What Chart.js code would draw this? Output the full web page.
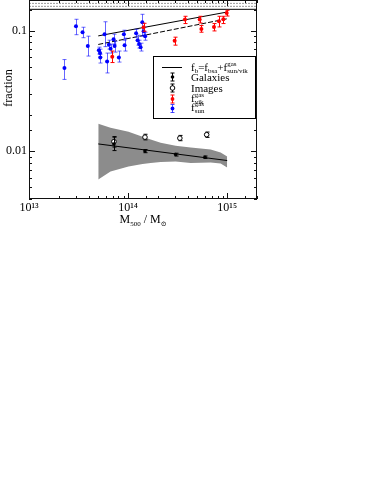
<!DOCTYPE html>
<html><head><meta charset="utf-8">
<script src="https://cdn.jsdelivr.net/npm/chart.js@4.4.0/dist/chart.umd.min.js"></script>
<style>html,body{margin:0;padding:0;background:#fff;}#wrap{position:relative;width:374px;height:484px;}</style>
</head><body><div id="wrap"><canvas id="c" width="374" height="484"></canvas></div>
<script>
// ---- data (M500 in solar masses, fractions) ----
const blueMass = [2.28e13, 2.98e13, 3.47e13, 3.92e13, 5.07e13, 5.21e13, 5.24e13, 5.79e13, 6.14e13, 6.40e13, 6.66e13, 7.14e13, 7.31e13, 8.07e13, 9.07e13, 9.22e13, 1.205e14, 1.247e14, 1.291e14, 1.337e14, 1.391e14, 1.434e14, 1.485e14];
const blueFrac = [0.0490, 0.1089, 0.0972, 0.0745, 0.0690, 0.0652, 0.0598, 0.0936, 0.0555, 0.0766, 0.0710, 0.0851, 0.0745, 0.0598, 0.0936, 0.0759, 0.0954, 0.0834, 0.0774, 0.0730, 0.1175, 0.0990, 0.0901];
const blueLo = [0.0394, 0.0927, 0.0875, 0.0616, 0.0640, 0.0604, 0.0539, 0.0738, 0.0446, 0.0703, 0.0652, 0.0773, 0.0664, 0.0549, 0.0834, 0.0678, 0.0884, 0.0759, 0.0717, 0.0678, 0.0901, 0.0918, 0.0834];
const blueHi = [0.0576, 0.1245, 0.1069, 0.0901, 0.0730, 0.0703, 0.0640, 0.1187, 0.0652, 0.0834, 0.0774, 0.0936, 0.0819, 0.0678, 0.1010, 0.0867, 0.1029, 0.0918, 0.0834, 0.0788, 0.1369, 0.1069, 0.0972];

const redMass = [6.92e13, 1.434e14, 2.95e14, 3.75e14, 5.28e14, 5.49e14, 7.36e14, 8.26e14, 9.15e14, 9.89e14];
const redFrac = [0.0607, 0.1069, 0.0824, 0.1238, 0.1238, 0.1035, 0.1075, 0.1198, 0.1245, 0.1403];
const redLo = [0.0544, 0.0990, 0.0759, 0.1147, 0.1160, 0.0972, 0.0996, 0.1075, 0.1147, 0.1325];
const redHi = [0.0678, 0.1153, 0.0884, 0.1318, 0.1318, 0.1104, 0.1147, 0.1318, 0.1318, 0.1477];

const galMass = [7.2e13, 1.48e14, 3.02e14, 5.97e14];
const galFrac = [0.01147, 0.0100, 0.00936, 0.00889];
const galLo = [0.0101, 0.0097, 0.0091, 0.0087];
const galHi = [0.01305, 0.0103, 0.0096, 0.0091];

const imgMass = [7.2e13, 1.48e14, 3.33e14, 6.21e14];
const imgFrac = [0.0120, 0.01306, 0.01281, 0.01369];
const imgLo = [0.0108, 0.0124, 0.0122, 0.0130];
const imgHi = [0.0132, 0.0138, 0.0135, 0.0144];

const bandMass = [5.0e13, 6.65e13, 1.01e14, 1.40e14, 1.69e14, 2.13e14, 3.02e14, 4.28e14, 6.81e14, 8.59e14, 1.0e15];
const bandUpper = [0.01688, 0.01563, 0.01449, 0.01318, 0.0125, 0.01175, 0.0111, 0.0107, 0.01029, 0.00972, 0.00901];
const bandLower = [0.00581, 0.00678, 0.00745, 0.0078, 0.00796, 0.0081, 0.00819, 0.00796, 0.00803, 0.0079, 0.00731];

const fitMass = [5e13, 1e15];
const fitTotal = [0.0906, 0.143];
const fitTotalDash = [0.0769, 0.1257];
const fitStars = [0.01147, 0.00835];

const cosmicMass = [1e13, 2e15];
const cosmicFrac = 0.1506;
const cosmicBandHi = 0.1687;
const cosmicBandLo = 0.1594;

const xTickDecades = [13, 14, 15];
const yTickLabels = {"-1": "0.1", "-2": "0.01"};

const X_MIN = 1e13, X_MAX = 2e15, Y_MIN = 0.004, Y_MAX = 0.18;
const FONT = "'Liberation Serif', 'DejaVu Serif', serif";
const AREA = {left: 29, top: 0, right: 257, bottom: 199};

const pts = (xs, ys) => xs.map((v, i) => ({x: v, y: ys[i]}));
const flat = (xs, v) => xs.map(m => ({x: m, y: v}));
const SUP = {'0':'⁰','1':'¹','2':'²','3':'³','4':'⁴','5':'⁵','6':'⁶','7':'⁷','8':'⁸','9':'⁹'};

const areaPlugin = {
  id: 'area',
  afterLayout(chart) {
    const x = chart.scales.x, y = chart.scales.y, a = chart.chartArea;
    y.top = AREA.top; y.bottom = AREA.bottom; y.height = AREA.bottom - AREA.top; y.left = 0; y.right = AREA.left; y.width = AREA.left; y.configure();
    x.left = AREA.left; x.right = AREA.right; x.width = AREA.right - AREA.left; x.top = AREA.bottom; x.height = x.bottom - AREA.bottom; x.configure();
    a.left = AREA.left; a.right = AREA.right; a.top = AREA.top; a.bottom = AREA.bottom;
    a.width = AREA.right - AREA.left; a.height = AREA.bottom - AREA.top;
  }
};

const errPlugin = {
  id: 'err',
  beforeDatasetDraw(chart, args) {
    const ds = chart.data.datasets[args.index];
    if (!ds.errLo) return;
    const {ctx, scales: {x, y}} = chart;
    ctx.save();
    ctx.strokeStyle = ds.errColor; ctx.lineWidth = 1;
    ds.data.forEach((p, i) => {
      const px = Math.round(x.getPixelForValue(p.x)) + 0.5;
      const y1 = y.getPixelForValue(ds.errLo[i]), y2 = y.getPixelForValue(ds.errHi[i]);
      const c = 2;
      ctx.beginPath();
      ctx.moveTo(px, y1); ctx.lineTo(px, y2);
      ctx.moveTo(px - c, y1); ctx.lineTo(px + c, y1);
      ctx.moveTo(px - c, y2); ctx.lineTo(px + c, y2);
      ctx.stroke();
    });
    ctx.restore();
  }
};

function drawRich(ctx, x, y, segs, size) {
  const small = Math.round(size * 0.62);
  let cx = x;
  segs.forEach(s => {
    if (s.t) {
      ctx.font = size + 'px ' + FONT;
      ctx.fillText(s.t, cx, y);
      cx += ctx.measureText(s.t).width;
    }
    let w = 0;
    ctx.font = small + 'px ' + FONT;
    if (s.sup) { ctx.fillText(s.sup, cx, y - size * 0.42); w = Math.max(w, ctx.measureText(s.sup).width); }
    if (s.sub) { ctx.fillText(s.sub, cx, y + size * 0.22); w = Math.max(w, ctx.measureText(s.sub).width); }
    cx += w;
  });
  return cx - x;
}
function richWidth(ctx, segs, size) {
  const small = Math.round(size * 0.62); let w = 0;
  segs.forEach(s => {
    if (s.t) { ctx.font = size + 'px ' + FONT; w += ctx.measureText(s.t).width; }
    ctx.font = small + 'px ' + FONT;
    w += Math.max(s.sup ? ctx.measureText(s.sup).width : 0, s.sub ? ctx.measureText(s.sub).width : 0);
  });
  return w;
}

const framePlugin = {
  id: 'frame',
  afterDraw(chart) {
    const {ctx, chartArea: a, scales: {x, y}} = chart;
    ctx.save();
    ctx.strokeStyle = '#111'; ctx.lineWidth = 1;
    ctx.strokeRect(a.left + 0.5, a.top + 0.5, a.right - a.left - 1, a.bottom - a.top - 1);
    const isMajor = v => Math.abs(Math.log10(v) - Math.round(Math.log10(v))) < 1e-6;
    ctx.beginPath();
    x.ticks.forEach(t => {
      const v = t.value; if (v < X_MIN * 0.999 || v > X_MAX * 1.001) return;
      const L = isMajor(v) ? 6 : 3;
      const px = Math.round(x.getPixelForValue(v)) + 0.5;
      ctx.moveTo(px, a.bottom); ctx.lineTo(px, a.bottom - L);
      ctx.moveTo(px, a.top); ctx.lineTo(px, a.top + L);
    });
    y.ticks.forEach(t => {
      const v = t.value; if (v < Y_MIN * 0.999 || v > Y_MAX * 1.001) return;
      const L = isMajor(v) ? 6 : 3;
      const py = Math.round(y.getPixelForValue(v)) + 0.5;
      ctx.moveTo(a.left, py); ctx.lineTo(a.left + L, py);
      ctx.moveTo(a.right, py); ctx.lineTo(a.right - L, py);
    });
    ctx.stroke();

    // axis titles
    ctx.fillStyle = '#000'; ctx.textBaseline = 'alphabetic';
    const segs = [{t: 'M', sub: '500'}, {t: ' / M', sub: '⊙'}];
    const w = richWidth(ctx, segs, 12);
    drawRich(ctx, (a.left + a.right) / 2 - w / 2, 223, segs, 12);
    ctx.save();
    ctx.translate(9, 88); ctx.rotate(-Math.PI / 2);
    ctx.font = '12px ' + FONT; ctx.textAlign = 'center'; ctx.textBaseline = 'middle';
    ctx.fillText('fraction', 0, 0);
    ctx.restore();

    // legend
    const L0 = 153, T0 = 56, R0 = 255, B0 = 118;
    ctx.fillStyle = '#fff'; ctx.fillRect(L0, T0, R0 - L0, B0 - T0);
    ctx.strokeStyle = '#000'; ctx.lineWidth = 1;
    ctx.strokeRect(L0 + 0.5, T0 + 0.5, R0 - L0, B0 - T0);
    const mx = 172.5, tx = 191;
    ctx.beginPath(); ctx.moveTo(162, 67.5); ctx.lineTo(182, 67.5); ctx.stroke();
    const eb = (cy, col) => {
      ctx.strokeStyle = col; ctx.beginPath();
      ctx.moveTo(mx, cy - 4); ctx.lineTo(mx, cy + 4);
      ctx.moveTo(mx - 2, cy - 4); ctx.lineTo(mx + 2, cy - 4);
      ctx.moveTo(mx - 2, cy + 4); ctx.lineTo(mx + 2, cy + 4);
      ctx.stroke();
    };
    eb(77, '#000'); ctx.fillStyle = '#000'; ctx.beginPath(); ctx.arc(mx, 77, 1.8, 0, 7); ctx.fill();
    eb(88, '#000'); ctx.fillStyle = '#fff'; ctx.beginPath(); ctx.arc(mx, 88, 2.3, 0, 7); ctx.fill(); ctx.stroke();
    eb(99, '#f00'); ctx.fillStyle = '#f00'; ctx.beginPath(); ctx.arc(mx, 99, 1.9, 0, 7); ctx.fill();
    eb(108.5, 'rgba(0,0,255,0.7)'); ctx.fillStyle = '#00f'; ctx.beginPath(); ctx.arc(mx, 108.5, 1.9, 0, 7); ctx.fill();
    ctx.fillStyle = '#000';
    drawRich(ctx, tx, 70.5, [{t: 'f', sub: 'b'}, {t: '=f', sub: 'bsa'}, {t: '+f', sup: 'gas', sub: 'sun/vik'}], 11);
    ctx.font = '11px ' + FONT;
    ctx.fillText('Galaxies', tx, 81);
    ctx.fillText('Images', tx, 91.5);
    drawRich(ctx, tx, 101.5, [{t: 'f', sup: 'gas', sub: 'vik'}], 11);
    drawRich(ctx, tx, 110.5, [{t: 'f', sup: 'gas', sub: 'sun'}], 11);
    ctx.restore();
  }
};

const lineDs = (data, opts) => Object.assign({type: 'line', data, showLine: true, pointRadius: 0, borderWidth: 1, borderColor: '#000', fill: false, order: 5}, opts);

new Chart(document.getElementById('c'), {
  type: 'scatter',
  data: {
    datasets: [
      lineDs(pts(bandMass, bandUpper), {borderWidth: 0, backgroundColor: '#8c8c8c', fill: '+1', order: 10}),
      lineDs(pts(bandMass, bandLower), {borderWidth: 0, order: 10}),
      lineDs(flat(cosmicMass, cosmicFrac), {}),
      lineDs(flat(cosmicMass, cosmicBandHi), {borderColor: '#999', borderDash: [2, 1]}),
      lineDs(flat(cosmicMass, cosmicBandLo), {borderColor: '#999', borderDash: [2, 1]}),
      lineDs(pts(fitMass, fitTotal), {}),
      lineDs(pts(fitMass, fitTotalDash), {borderDash: [5, 2]}),
      lineDs(pts(fitMass, fitStars), {}),
      {data: pts(blueMass, blueFrac), errLo: blueLo, errHi: blueHi, errColor: 'rgba(0,0,255,0.6)', pointRadius: 2, pointBackgroundColor: '#00f', pointBorderWidth: 0, order: 1},
      {data: pts(redMass, redFrac), errLo: redLo, errHi: redHi, errColor: '#f00', pointRadius: 2, pointBackgroundColor: '#f00', pointBorderWidth: 0, order: 0},
      {data: pts(galMass, galFrac), errLo: galLo, errHi: galHi, errColor: '#000', pointRadius: 1.8, pointBackgroundColor: '#000', pointBorderWidth: 0, order: 0},
      {data: pts(imgMass, imgFrac), errLo: imgLo, errHi: imgHi, errColor: '#000', pointRadius: 2.3, pointBackgroundColor: '#fff', pointBorderColor: '#000', pointBorderWidth: 1, order: 0}
    ]
  },
  options: {
    responsive: false, animation: false, devicePixelRatio: 1,
    layout: {padding: {left: 0, right: 117, top: 0, bottom: 0}},
    plugins: {legend: {display: false}, tooltip: {enabled: false}},
    scales: {
      x: {
        type: 'logarithmic', min: X_MIN, max: X_MAX,
        grid: {display: false, drawTicks: false}, border: {display: false},
        ticks: {autoSkip: false, maxRotation: 0, padding: 2, color: '#000', font: {family: FONT, size: 12},
          callback: v => { const e = Math.log10(v); const r = Math.round(e);
            return (Math.abs(e - r) < 1e-6 && xTickDecades.includes(r)) ? '10' + String(r).split('').map(c => SUP[c]).join('') : ''; }},
        afterFit: s => { s.height = 285; s.paddingLeft = 0; s.paddingRight = 0; }
      },
      y: {
        type: 'logarithmic', min: Y_MIN, max: Y_MAX,
        grid: {display: false, drawTicks: false}, border: {display: false},
        ticks: {autoSkip: false, padding: 2, color: '#000', font: {family: FONT, size: 12},
          callback: v => { const e = Math.log10(v); const r = Math.round(e);
            return (Math.abs(e - r) < 1e-6 && yTickLabels[r]) ? yTickLabels[r] : ''; }},
        afterFit: s => { s.width = 29; s.paddingTop = 0; s.paddingBottom = 0; }
      }
    }
  },
  plugins: [areaPlugin, errPlugin, framePlugin]
});
</script></body></html>
